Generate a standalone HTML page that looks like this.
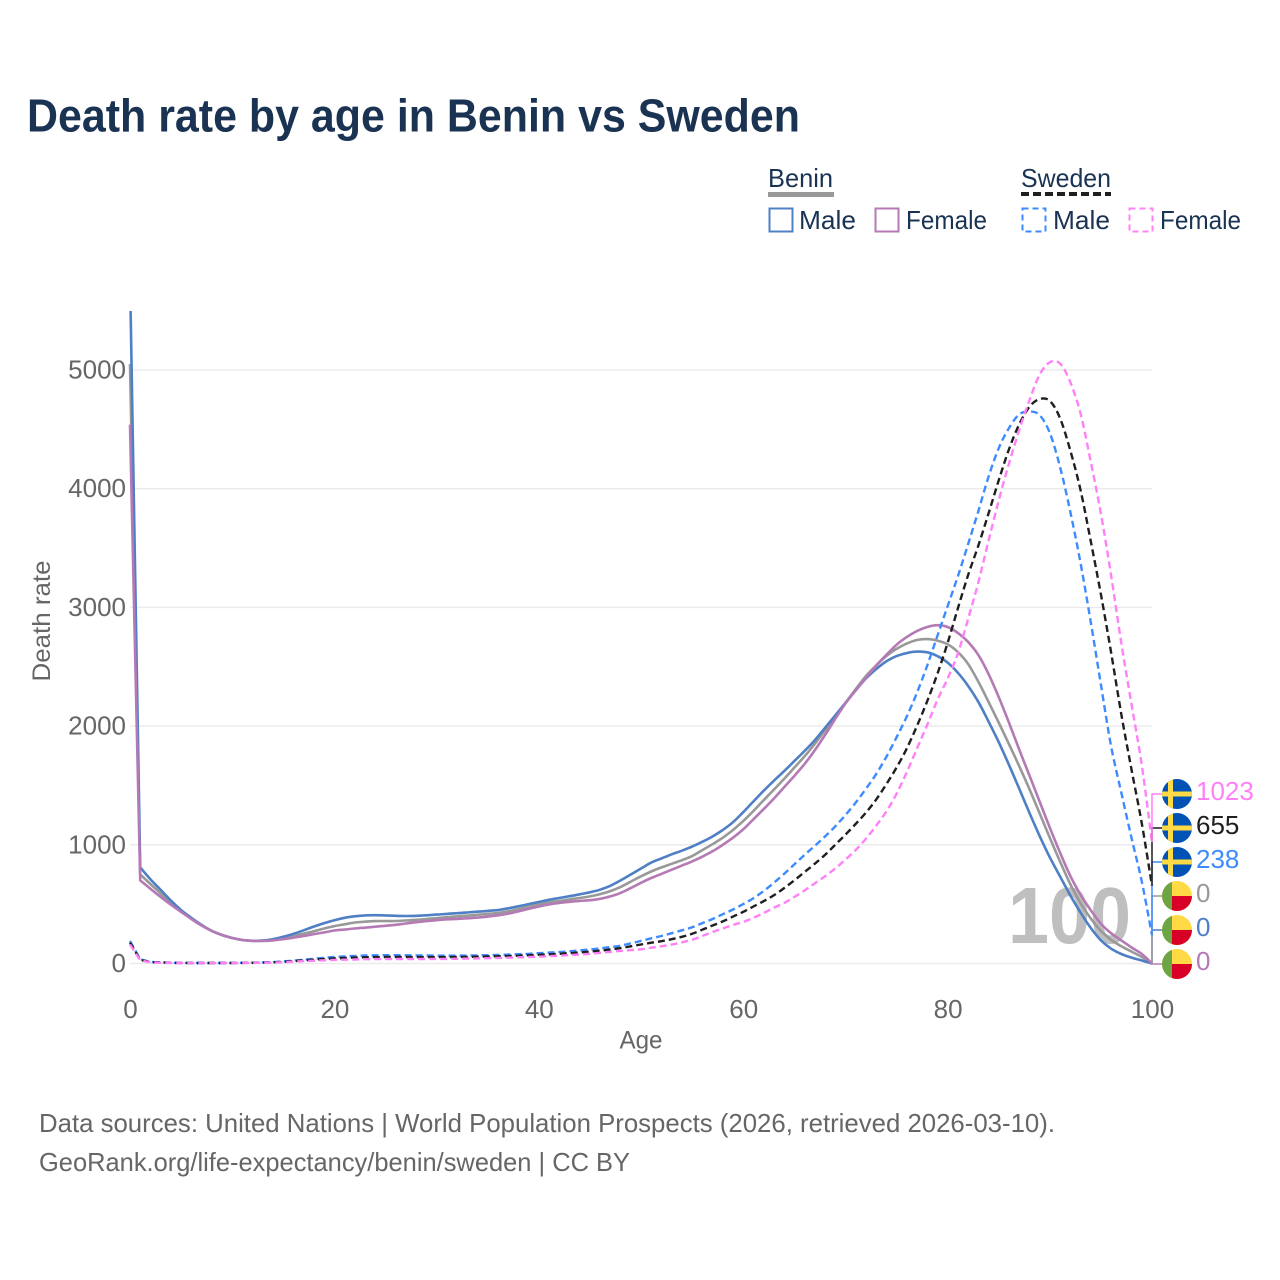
<!DOCTYPE html>
<html lang="en">
<head>
<meta charset="utf-8">
<title>Death rate by age in Benin vs Sweden</title>
<style>
html,body{margin:0;padding:0;background:#fff;}
svg{display:block;font-family:"Liberation Sans",sans-serif;}
</style>
</head>
<body>
<svg id="chart" width="1280" height="1280" viewBox="0 0 1280 1280" xmlns="http://www.w3.org/2000/svg">
  <defs>
    <clipPath id="plot-clip"><rect x="120" y="311" width="1045" height="670"></rect></clipPath>
  </defs>
  <rect x="0" y="0" width="1280" height="1280" fill="#ffffff"></rect>
  <text x="27" y="131.5" font-size="46" font-weight="700" fill="#1a3352" textLength="773" lengthAdjust="spacingAndGlyphs">Death rate by age in Benin vs Sweden</text>

  <g font-size="26" fill="#1a3352">
    <text x="768" y="187" textLength="65" lengthAdjust="spacingAndGlyphs">Benin</text>
    <line x1="768" y1="194.5" x2="834" y2="194.5" stroke="#999999" stroke-width="5"></line>
    <rect x="769.5" y="208.5" width="23" height="23" fill="none" stroke="#4f7fc4" stroke-width="2"></rect>
    <text x="799" y="229" textLength="57" lengthAdjust="spacingAndGlyphs">Male</text>
    <rect x="875.5" y="208.5" width="23" height="23" fill="none" stroke="#b57ab5" stroke-width="2"></rect>
    <text x="906" y="229" textLength="81" lengthAdjust="spacingAndGlyphs">Female</text>
    <text x="1021" y="187" textLength="90" lengthAdjust="spacingAndGlyphs">Sweden</text>
    <line x1="1021" y1="194" x2="1111" y2="194" stroke="#1f1f1f" stroke-width="4" stroke-dasharray="8 4"></line>
    <rect x="1022.5" y="208.5" width="23" height="23" fill="none" stroke="#3d8bff" stroke-width="2" stroke-dasharray="6 4"></rect>
    <text x="1053" y="229" textLength="57" lengthAdjust="spacingAndGlyphs">Male</text>
    <rect x="1129.5" y="208.5" width="23" height="23" fill="none" stroke="#ff80f7" stroke-width="2" stroke-dasharray="6 4"></rect>
    <text x="1160" y="229" textLength="81" lengthAdjust="spacingAndGlyphs">Female</text>
  </g>

  <g id="grid"></g>
  <g id="yticks"></g>
  <g id="xticks"></g>
  <text transform="translate(50,621) rotate(-90)" text-anchor="middle" font-size="25" fill="#666666" textLength="121" lengthAdjust="spacingAndGlyphs">Death rate</text>
  <text x="641" y="1048.5" text-anchor="middle" font-size="25" fill="#666666" textLength="43" lengthAdjust="spacingAndGlyphs">Age</text>
  <text x="1008" y="943" font-size="80" font-weight="700" fill="#bfbfbf" textLength="123" lengthAdjust="spacingAndGlyphs">100</text>
  <g id="series" clip-path="url(#plot-clip)"></g>
  <g id="endlabels"></g>

  <text x="39" y="1132" font-size="26" fill="#666666" textLength="1016" lengthAdjust="spacingAndGlyphs">Data sources: United Nations | World Population Prospects (2026, retrieved 2026-03-10).</text>
  <text x="39" y="1171" font-size="26" fill="#666666" textLength="591" lengthAdjust="spacingAndGlyphs">GeoRank.org/life-expectancy/benin/sweden | CC BY</text>
</svg>
<script>
const xTickLabels = [0, 20, 40, 60, 80, 100];
const yTickLabels = [0, 1000, 2000, 3000, 4000, 5000];

const beninTotal = [5050,
  750,670,590,510,445,380,322,275,240,215,
  198,191,193,200,215,232,252,272,295,315,
  330,345,352,357,358,358,362,368,375,382,
  390,397,403,410,418,425,440,458,478,497,
  515,527,540,552,565,585,610,645,690,735,
  775,810,840,870,905,955,1005,1060,1125,1200,
  1285,1375,1465,1555,1650,1745,1850,1965,2080,2195,
  2310,2420,2510,2590,2650,2695,2725,2733,2720,2690,
  2625,2525,2375,2205,2030,1850,1665,1470,1265,1060,
  860,670,510,380,275,200,145,100,55,0];
const beninMale = [5800,
  810,710,620,530,450,385,325,275,240,215,
  198,191,193,205,225,250,280,312,340,365,
  385,398,405,407,405,402,400,402,406,412,
  418,424,430,436,443,450,465,482,500,518,
  537,552,567,583,600,622,655,700,750,800,
  850,885,920,950,985,1025,1070,1125,1190,1275,
  1365,1455,1540,1620,1705,1790,1880,1985,2090,2195,
  2300,2400,2480,2545,2590,2615,2628,2622,2590,2535,
  2450,2340,2205,2040,1865,1675,1475,1270,1075,895,
  735,575,430,300,195,125,80,50,25,0];
const beninFemale = [4540,
  700,630,560,495,435,375,320,275,240,215,
  198,191,190,195,205,218,232,248,262,278,
  286,295,302,310,318,326,337,348,357,365,
  372,376,381,387,395,405,420,440,460,480,
  497,510,520,527,533,545,565,595,635,680,
  720,755,790,825,860,900,945,1000,1060,1130,
  1215,1300,1390,1485,1580,1680,1795,1925,2060,2190,
  2300,2405,2510,2600,2685,2750,2800,2835,2850,2835,
  2785,2710,2600,2440,2245,2030,1805,1585,1365,1145,
  935,740,580,450,335,255,195,135,80,0];
const swedenMale = [190,
  35,15,10,7,5,4,4,4,4,5,
  6,7,9,12,17,24,32,40,48,55,
  60,64,67,69,70,70,69,68,67,66,
  66,66,67,68,70,72,75,78,82,87,
  92,97,103,110,118,128,138,150,170,190,
  212,232,255,280,305,340,375,415,455,500,
  550,610,680,755,835,915,990,1070,1155,1250,
  1355,1470,1595,1740,1905,2080,2280,2510,2760,3010,
  3260,3530,3810,4100,4340,4510,4625,4650,4620,4470,
  4185,3810,3375,2880,2350,1830,1440,1055,690,238];
const swedenTotal = [175,
  30,13,9,6,5,4,4,4,4,4,
  5,6,8,10,14,20,26,32,38,43,
  47,50,52,54,55,55,55,54,54,54,
  54,55,56,57,59,61,63,66,69,73,
  77,82,87,93,100,108,118,130,145,160,
  175,188,205,225,250,285,320,355,395,435,
  480,525,575,635,700,770,840,915,1000,1085,
  1175,1270,1380,1510,1650,1810,2000,2210,2440,2700,
  2990,3270,3520,3790,4070,4330,4540,4690,4755,4740,
  4595,4325,3990,3560,3110,2620,2100,1630,1180,655];
const swedenFemale = [160,
  28,11,7,5,4,3,3,3,3,4,
  4,5,6,8,11,15,20,24,27,30,
  32,34,36,37,38,38,38,38,38,39,
  39,40,41,43,45,47,49,52,55,58,
  62,66,71,76,82,90,98,106,113,120,
  133,145,160,178,200,232,265,295,325,350,
  385,425,470,510,560,615,675,735,800,875,
  955,1050,1160,1280,1430,1610,1810,2010,2220,2400,
  2610,2900,3210,3560,3900,4210,4490,4745,4960,5065,
  5055,4900,4635,4230,3790,3270,2700,2180,1670,1023];

const svgNS = 'http://www.w3.org/2000/svg';
const xScale = function (age) { return 130 + age * 10.22; };
const yScale = function (value) { return 963.5 - value * 0.1187; };

const seriesDefs = [
  { key: 'benin-total', values: beninTotal, color: '#999999', dash: '', width: 2.6, flag: 'benin' },
  { key: 'benin-male', values: beninMale, color: '#4f7fc4', dash: '', width: 2.6, flag: 'benin' },
  { key: 'benin-female', values: beninFemale, color: '#b57ab5', dash: '', width: 2.6, flag: 'benin' },
  { key: 'sweden-male', values: swedenMale, color: '#3d8bff', dash: '7 4', width: 2.4, flag: 'sweden' },
  { key: 'sweden-total', values: swedenTotal, color: '#1f1f1f', dash: '7 4', width: 2.4, flag: 'sweden' },
  { key: 'sweden-female', values: swedenFemale, color: '#ff80f7', dash: '7 4', width: 2.4, flag: 'sweden' }
];

const grid = document.getElementById('grid');
const yticks = document.getElementById('yticks');
const xticks = document.getElementById('xticks');
const seriesGroup = document.getElementById('series');
const endGroup = document.getElementById('endlabels');

yTickLabels.forEach(function (tick) {
  const line = document.createElementNS(svgNS, 'line');
  
  
  line.setAttribute('x1', 130);
  line.setAttribute('x2', 1152);
  line.setAttribute('y1', yScale(tick));
  line.setAttribute('y2', yScale(tick));
  line.setAttribute('stroke', '#ebebeb');
  line.setAttribute('stroke-width', 1.5);
  grid.appendChild(line);

  const label = document.createElementNS(svgNS, 'text');
  
  
  label.setAttribute('x', 126);
  label.setAttribute('y', yScale(tick) + 8.5);
  label.setAttribute('text-anchor', 'end');
  label.setAttribute('font-size', 26);
  label.setAttribute('fill', '#666666');
  label.textContent = tick;
  yticks.appendChild(label);
});

xTickLabels.forEach(function (tick) {
  const label = document.createElementNS(svgNS, 'text');
  
  
  label.setAttribute('x', xScale(tick) + 0.5);
  label.setAttribute('y', 1018);
  label.setAttribute('text-anchor', 'middle');
  label.setAttribute('font-size', 26);
  label.setAttribute('fill', '#666666');
  label.textContent = tick;
  xticks.appendChild(label);
});

function linePath(values) {
  const p = values.map(function (v, i) { return [xScale(i), yScale(v)]; });
  let d = 'M' + p[0][0].toFixed(1) + ' ' + p[0][1].toFixed(1) + ' L' + p[1][0].toFixed(1) + ' ' + p[1][1].toFixed(1);
  for (let i = 1; i < p.length - 1; i++) {
    const p0 = i > 1 ? p[i - 1] : p[i];
    const p1 = p[i];
    const p2 = p[i + 1];
    const p3 = i + 2 < p.length ? p[i + 2] : p[i + 1];
    const c1x = p1[0] + (p2[0] - p0[0]) / 6;
    const c1y = p1[1] + (p2[1] - p0[1]) / 6;
    const c2x = p2[0] - (p3[0] - p1[0]) / 6;
    const c2y = p2[1] - (p3[1] - p1[1]) / 6;
    d += ' C' + c1x.toFixed(1) + ' ' + c1y.toFixed(1) + ' ' + c2x.toFixed(1) + ' ' + c2y.toFixed(1) + ' ' + p2[0].toFixed(1) + ' ' + p2[1].toFixed(1);
  }
  return d;
}

seriesDefs.forEach(function (s) {
  const line = document.createElementNS(svgNS, 'path');
  
  
  line.setAttribute('d', linePath(s.values));
  line.setAttribute('fill', 'none');
  line.setAttribute('stroke', s.color);
  line.setAttribute('stroke-width', s.width);
  line.setAttribute('stroke-linejoin', 'round');
  if (s.dash) { line.setAttribute('stroke-dasharray', s.dash); }
  seriesGroup.appendChild(line);
});

function shape(tag, parent, attrs) {
  const el = document.createElementNS(svgNS, tag);
  Object.keys(attrs).forEach(function (k) { el.setAttribute(k, attrs[k]); });
  parent.appendChild(el);
  return el;
}

const ranked = [seriesDefs[2], seriesDefs[1], seriesDefs[0], seriesDefs[3], seriesDefs[4], seriesDefs[5]]
  .slice()
  .sort(function (a, b) { return a.values[100] - b.values[100]; });

ranked.forEach(function (s, i) {
  const last = s.values[100];
  const ly = 964 - i * 34;
  const cx = 1177;

  const connector = document.createElementNS(svgNS, 'path');
  
  
  connector.setAttribute('d', 'M1152 ' + yScale(last).toFixed(1) + ' V' + ly + ' H1162');
  connector.setAttribute('fill', 'none');
  connector.setAttribute('stroke', s.color);
  connector.setAttribute('stroke-width', 1.5);
  endGroup.appendChild(connector);

  const flag = document.createElementNS(svgNS, 'g');
  
  
  const clipId = 'flag-clip-' + i;
  const clip = document.createElementNS(svgNS, 'clipPath');
  clip.setAttribute('id', clipId);
  shape('circle', clip, { cx: cx, cy: ly, r: 15 });
  flag.appendChild(clip);
  flag.setAttribute('clip-path', 'url(#' + clipId + ')');
  if (s.flag === 'sweden') {
    shape('rect', flag, { x: cx - 15, y: ly - 15, width: 30, height: 30, fill: '#0052b4' });
    shape('rect', flag, { x: cx - 9, y: ly - 15, width: 5, height: 30, fill: '#ffda44' });
    shape('rect', flag, { x: cx - 15, y: ly - 2.5, width: 30, height: 5, fill: '#ffda44' });
  } else {
    shape('rect', flag, { x: cx - 15, y: ly - 15, width: 30, height: 30, fill: '#ffda44' });
    shape('rect', flag, { x: cx - 5, y: ly, width: 20, height: 15, fill: '#d80027' });
    shape('rect', flag, { x: cx - 15, y: ly - 15, width: 10, height: 30, fill: '#6da544' });
  }
  endGroup.appendChild(flag);

  const value = document.createElementNS(svgNS, 'text');
  
  
  value.setAttribute('x', 1196);
  value.setAttribute('y', ly + 6);
  value.setAttribute('font-size', 26);
  value.setAttribute('fill', s.color);
  value.textContent = last;
  endGroup.appendChild(value);
});
</script>
</body>
</html>
